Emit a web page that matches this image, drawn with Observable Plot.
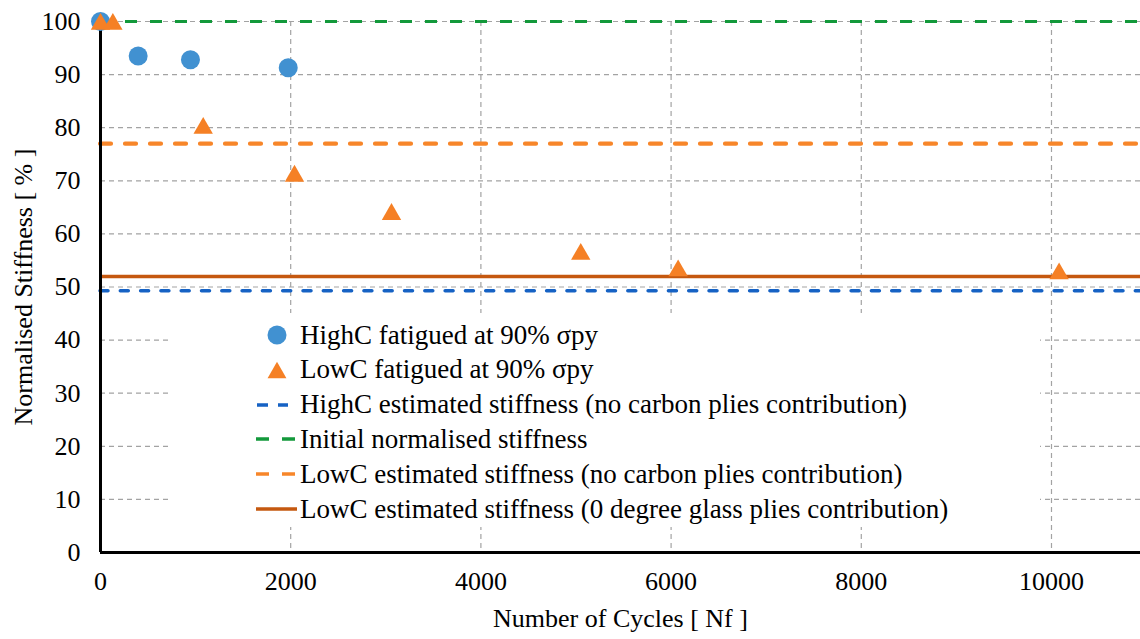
<!DOCTYPE html>
<html><head><meta charset="utf-8">
<script src="https://cdn.jsdelivr.net/npm/d3@7"></script>
<script src="https://cdn.jsdelivr.net/npm/@observablehq/plot@0.6"></script>
<style>
html,body{margin:0;padding:0;background:#fff;}
#wrap{position:relative;width:1140px;height:639px;font-family:"Liberation Serif","DejaVu Serif","Noto Serif","Nimbus Roman","FreeSerif","Times New Roman",Times,serif;}
#legend{position:absolute;left:170px;top:313px;width:870px;height:214px;background:#fff;}
.row{position:absolute;left:0;height:34px;display:flex;align-items:center;font-size:27px;color:#000;white-space:nowrap;}
.row svg{margin-left:86px;flex:none;}
</style></head><body><div id="wrap"></div>
<script>
// ---- data ----
const highCCycles = [0, 396, 946, 1974];
const highCStiffness = [100, 93.5, 92.8, 91.3];
const lowCCycles = [0, 130, 1080, 2040, 3060, 5050, 6074, 10080];
const lowCStiffness = [100, 100, 80.4, 71.4, 64.2, 56.7, 53.6, 53.0];
const initialStiffness = [100];
const lowCNoCarbon = [77];
const lowCGlass = [52];
const highCNoCarbon = [49.3];
const xTicks = [0, 2000, 4000, 6000, 8000, 10000];
const yTicks = [0, 10, 20, 30, 40, 50, 60, 70, 80, 90, 100];
const xTitle = ["Number of Cycles [ Nf ]"];
const yTitle = ["Normalised Stiffness [ % ]"];
const legendLabels = [
  "HighC fatigued at 90% σpy",
  "LowC fatigued at 90% σpy",
  "HighC estimated stiffness (no carbon plies contribution)",
  "Initial normalised stiffness",
  "LowC estimated stiffness (no carbon plies contribution)",
  "LowC estimated stiffness (0 degree glass plies contribution)"
];

const blue = "#4191d1", orange = "#f58025";
const cBlueLine = "#1662c4", cGreen = "#13993b", cOrangeLine = "#f7862a", cBrown = "#c5580f";
const serif = "'Liberation Serif','DejaVu Serif','Noto Serif','Nimbus Roman','FreeSerif','Times New Roman',Times,serif";

const highC = highCCycles.map((x, i) => ({x, y: highCStiffness[i]}));
const lowC = lowCCycles.map((x, i) => ({x, y: lowCStiffness[i]}));

const gridStyle = {stroke: "#a3a3a3", strokeOpacity: 1, strokeWidth: 1.2, strokeDasharray: "5,4"};

const plot = Plot.plot({
  width: 1140, height: 639,
  marginLeft: 100, marginRight: 0, marginTop: 21, marginBottom: 87,
  x: {domain: [0, 10936]},
  y: {domain: [0, 100]},
  style: {fontFamily: serif, fontSize: "26px", color: "#000", background: "#fff", overflow: "visible"},
  marks: [
    Plot.gridX(xTicks.filter(d => d > 0), gridStyle),
    Plot.gridY(yTicks.filter(d => d > 0), gridStyle),
    Plot.ruleY(initialStiffness, {stroke: cGreen, strokeWidth: 3, strokeDasharray: "12,13"}),
    Plot.ruleY(lowCNoCarbon, {stroke: cOrangeLine, strokeWidth: 4.2, strokeDasharray: "11,14", strokeLinecap: "round"}),
    Plot.ruleY(lowCGlass, {stroke: cBrown, strokeWidth: 3.5}),
    Plot.ruleY(highCNoCarbon, {stroke: cBlueLine, strokeWidth: 3.5, strokeDasharray: "8,12.3", strokeLinecap: "round"}),
    Plot.ruleX([0], {stroke: "#000", strokeWidth: 3}),
    Plot.ruleY([0], {stroke: "#000", strokeWidth: 3}),
    Plot.axisY(yTicks, {tickSize: 0, tickPadding: 20, fontSize: 26, fontFamily: serif, label: null, tickFormat: d => String(d)}),
    Plot.axisX(xTicks, {tickSize: 0, tickPadding: 19, fontSize: 26, fontFamily: serif, label: null, tickFormat: d => String(d)}),
    Plot.text(yTitle, {text: d => d, frameAnchor: "left", textAnchor: "middle", dx: -77, rotate: -90, fontSize: 26, fontFamily: serif}),
    Plot.text(xTitle, {text: d => d, frameAnchor: "bottom", textAnchor: "middle", dy: 74, fontSize: 26, fontFamily: serif}),
    Plot.dot(highC, {x: "x", y: "y", r: 9.5, fill: blue, symbol: "circle"}),
    Plot.dot(lowC, {x: "x", y: "y", r: 7.2, fill: orange, symbol: "triangle", dy: 2.7})
  ]
});

const wrap = document.getElementById("wrap");
wrap.append(plot);

// ---- legend ----
const legend = document.createElement("div");
legend.id = "legend";
wrap.append(legend);
const swatches = [
  g => { g.append("circle").attr("cx", 21).attr("cy", 17).attr("r", 9.5).attr("fill", blue); },
  g => { g.append("path").attr("d", d3.symbol(d3.symbolTriangle, 154)()).attr("transform", "translate(21,19.7)").attr("fill", orange); },
  g => { g.append("line").attr("x1", 1).attr("x2", 32).attr("y1", 17).attr("y2", 17).attr("stroke", cBlueLine).attr("stroke-width", 3.5).attr("stroke-dasharray", "11,10"); },
  g => { g.append("line").attr("x1", 0).attr("x2", 39).attr("y1", 17).attr("y2", 17).attr("stroke", cGreen).attr("stroke-width", 3.5).attr("stroke-dasharray", "13,13"); },
  g => { g.append("line").attr("x1", 0).attr("x2", 39).attr("y1", 17).attr("y2", 17).attr("stroke", cOrangeLine).attr("stroke-width", 3.5).attr("stroke-dasharray", "13,13"); },
  g => { g.append("line").attr("x1", 0).attr("x2", 41).attr("y1", 17).attr("y2", 17).attr("stroke", cBrown).attr("stroke-width", 3.5); }
];
legendLabels.forEach((label, i) => {
  const row = document.createElement("div");
  row.className = "row";
  row.style.top = (22 + i * 34.8 - 17) + "px";
  legend.append(row);
  const svg = d3.select(row).append("svg").attr("width", 44).attr("height", 34);
  swatches[i](svg);
  const span = document.createElement("span");
  span.textContent = label;
  row.append(span);
});
</script>
</body></html>
